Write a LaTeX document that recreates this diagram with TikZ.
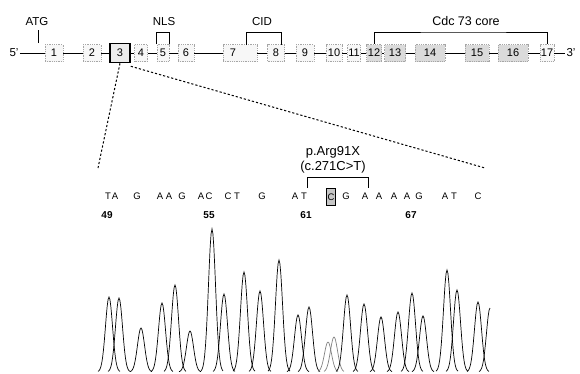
\documentclass[tikz,border=0pt]{standalone}
\usepackage{fontspec}
\setmainfont{Liberation Sans}
\tikzset{
  exon/.style={draw=gray!70, densely dotted, fill=gray!6, minimum height=17pt, inner sep=0pt, font=\fontsize{11}{11}\selectfont},
  core/.style={exon, fill=gray!28},
  tag/.style={font=\fontsize{11.5}{14}\selectfont, inner sep=1pt},
  nt/.style={font=\fontsize{9.5}{9.5}\selectfont, inner sep=0pt},
  posnum/.style={font=\fontsize{10}{10}\selectfont\bfseries, inner sep=0pt},
  zoomline/.style={line width=1pt, dash pattern=on 2.2pt off 2pt},
  bracket/.style={line width=0.8pt},
  peak/.style={line width=0.7pt}
}
\begin{document}
\begin{tikzpicture}[x=1pt,y=-1pt,line width=0.8pt]
\useasboundingbox (0,0) rectangle (580,373);
% gene
\node[tag] (p5) at (14,53) {5'};
\node[exon,minimum width=18pt] (e1) at (54,53) {1};
\node[exon,minimum width=18pt] (e2) at (92,53) {2};
\node[exon,draw=black,solid,line width=1.5pt,fill=gray!15,minimum width=20pt,minimum height=19pt] (e3) at (120,53) {3};
\node[exon,minimum width=13pt] (e4) at (141,53) {4};
\node[exon,minimum width=12pt] (e5) at (163,53) {5};
\node[exon,minimum width=16pt] (e6) at (186,53) {6};
\node[exon,minimum width=34pt] (e7) at (240,53) {7\hspace*{14pt}};
\node[exon,minimum width=17pt] (e8) at (276,53) {8};
\node[exon,minimum width=18pt] (e9) at (305,53) {9};
\node[exon,minimum width=16pt] (e10) at (334,53) {10};
\node[exon,minimum width=13pt] (e11) at (354,53) {11};
\node[core,minimum width=15pt] (e12) at (374,53) {12};
\node[core,minimum width=21pt] (e13) at (395,53) {13};
\node[core,minimum width=30pt] (e14) at (430,53) {14};
\node[core,minimum width=24pt] (e15) at (477,53) {15};
\node[core,minimum width=30pt] (e16) at (513,53) {16};
\node[exon,minimum width=14pt] (e17) at (547,53) {17};
\node[tag] (p3) at (571,53) {3'};
\draw (p5) -- (e1);
\draw (e1) -- (e2);
\draw (e2) -- (e3);
\draw (e3) -- (e4);
\draw (e4) -- (e5);
\draw (e5) -- (e6);
\draw (e6) -- (e7);
\draw (e7) -- (e8);
\draw (e8) -- (e9);
\draw (e9) -- (e10);
\draw (e10) -- (e11);
\draw (e11) -- (e12);
\draw (e12) -- (e13);
\draw (e13) -- (e14);
\draw (e14) -- (e15);
\draw (e15) -- (e16);
\draw (e16) -- (e17);
\draw (e17) -- (p3);
% domains
\node[tag] (atg) at (37,22) {ATG};
\coordinate (atgend) at (38,43);
\draw[bracket] (atgend) -- ([yshift=-3pt]atgend |- atg.south);
\node[tag] (nls) at (164,22) {NLS};
\draw[bracket] (e5.north west) |- ([yshift=-5pt]nls.south) -| (e5.north east);
\node[tag] (cid) at (262,22) {CID};
\coordinate (cidl) at (246,45);
\coordinate (cidr) at (281,45);
\draw[bracket] (cidl) |- ([yshift=-5pt]cid.south) -| (cidr);
\node[tag,font=\fontsize{12.5}{14}\selectfont] (core) at (466,21) {Cdc 73 core};
\draw[bracket] (e12.north) |- ([yshift=-5pt]core.south) -| (e17.north);
% zoom on exon 3
\coordinate (zl) at (98,168);
\coordinate (zr) at (485,168);
\draw[zoomline] (e3.south) -- (zl);
\draw[zoomline] ([yshift=-3pt]e3.south east) -- (zr);
% mutation
\node[tag,align=center,font=\fontsize{13}{15}\selectfont] (mut) at (333,160) {p.Arg91X\\(c.271C>T)};
\coordinate (ml) at (307,188);
\coordinate (mr) at (368,188);
\draw[bracket] (ml) |- ([yshift=-3pt]mut.south) -| (mr);
% sequence
\node[nt] (s1) at (108,196) {T};
\node[nt] (s2) at (115,196) {A};
\node[nt] (s3) at (137,196) {G};
\node[nt] (s4) at (160,196) {A};
\node[nt] (s5) at (169,196) {A};
\node[nt] (s6) at (182,196) {G};
\node[nt] (s7) at (201,196) {A};
\node[nt] (s8) at (209,196) {C};
\node[nt] (s9) at (228,196) {C};
\node[nt] (s10) at (237,196) {T};
\node[nt] (s11) at (262,196) {G};
\node[nt] (s12) at (295,196) {A};
\node[nt] (s13) at (304,196) {T};
\node[nt,draw,line width=0.6pt,fill=gray!45,minimum width=9pt,minimum height=17pt] (s14) at (331,197) {C};
\node[nt] (s15) at (346,196) {G};
\node[nt] (s16) at (365,196) {A};
\node[nt] (s17) at (379,196) {A};
\node[nt] (s18) at (394,196) {A};
\node[nt] (s19) at (407,196) {A};
\node[nt] (s20) at (419,196) {G};
\node[nt] (s21) at (445,196) {A};
\node[nt] (s22) at (454,196) {T};
\node[nt] (s23) at (478,196) {C};
\node[posnum] (n49) at (107,215) {49};
\node[posnum] (n55) at (209,215) {55};
\node[posnum] (n61) at (306,215) {61};
\node[posnum] (n67) at (411,215) {67};
% chromatogram
\draw[peak] plot[domain=98:120,samples=25] (\x,{372-75*exp(-(\x-109)*(\x-109)/25)});
\draw[peak] plot[domain=108:130,samples=25] (\x,{372-74*exp(-(\x-119)*(\x-119)/25)});
\draw[peak] plot[domain=130:152,samples=25] (\x,{372-44*exp(-(\x-141)*(\x-141)/25)});
\draw[peak] plot[domain=151:173,samples=25] (\x,{372-69*exp(-(\x-162)*(\x-162)/25)});
\draw[peak] plot[domain=164:186,samples=25] (\x,{372-87*exp(-(\x-175)*(\x-175)/25)});
\draw[peak] plot[domain=179:201,samples=25] (\x,{372-41*exp(-(\x-190)*(\x-190)/25)});
\draw[peak] plot[domain=201:223,samples=25] (\x,{372-143*exp(-(\x-212)*(\x-212)/25)});
\draw[peak] plot[domain=213:235,samples=25] (\x,{372-78*exp(-(\x-224)*(\x-224)/25)});
\draw[peak] plot[domain=233:255,samples=25] (\x,{372-100*exp(-(\x-244)*(\x-244)/25)});
\draw[peak] plot[domain=249:271,samples=25] (\x,{372-81*exp(-(\x-260)*(\x-260)/25)});
\draw[peak] plot[domain=268:290,samples=25] (\x,{372-112*exp(-(\x-279)*(\x-279)/25)});
\draw[peak] plot[domain=287:309,samples=25] (\x,{372-57*exp(-(\x-298)*(\x-298)/25)});
\draw[peak] plot[domain=298:320,samples=25] (\x,{372-65*exp(-(\x-309)*(\x-309)/25)});
\draw[peak,gray] plot[domain=318:338,samples=25] (\x,{372-30*exp(-(\x-328)*(\x-328)/25)});
\draw[peak,gray] plot[domain=324:344,samples=25] (\x,{372-35*exp(-(\x-334)*(\x-334)/25)});
\draw[peak] plot[domain=336:358,samples=25] (\x,{372-77*exp(-(\x-347)*(\x-347)/25)});
\draw[peak] plot[domain=353:375,samples=25] (\x,{372-68*exp(-(\x-364)*(\x-364)/25)});
\draw[peak] plot[domain=370:392,samples=25] (\x,{372-55*exp(-(\x-381)*(\x-381)/25)});
\draw[peak] plot[domain=387:409,samples=25] (\x,{372-60*exp(-(\x-398)*(\x-398)/25)});
\draw[peak] plot[domain=401:423,samples=25] (\x,{372-79*exp(-(\x-412)*(\x-412)/25)});
\draw[peak] plot[domain=412:434,samples=25] (\x,{372-56*exp(-(\x-423)*(\x-423)/25)});
\draw[peak] plot[domain=436:458,samples=25] (\x,{372-102*exp(-(\x-447)*(\x-447)/25)});
\draw[peak] plot[domain=446:468,samples=25] (\x,{372-82*exp(-(\x-457)*(\x-457)/25)});
\draw[peak] plot[domain=467:489,samples=25] (\x,{372-70*exp(-(\x-478)*(\x-478)/25)});
\draw[peak] plot[domain=479:490,samples=13] (\x,{372-64*exp(-(\x-490)*(\x-490)/25)});
\end{tikzpicture}
\end{document}
